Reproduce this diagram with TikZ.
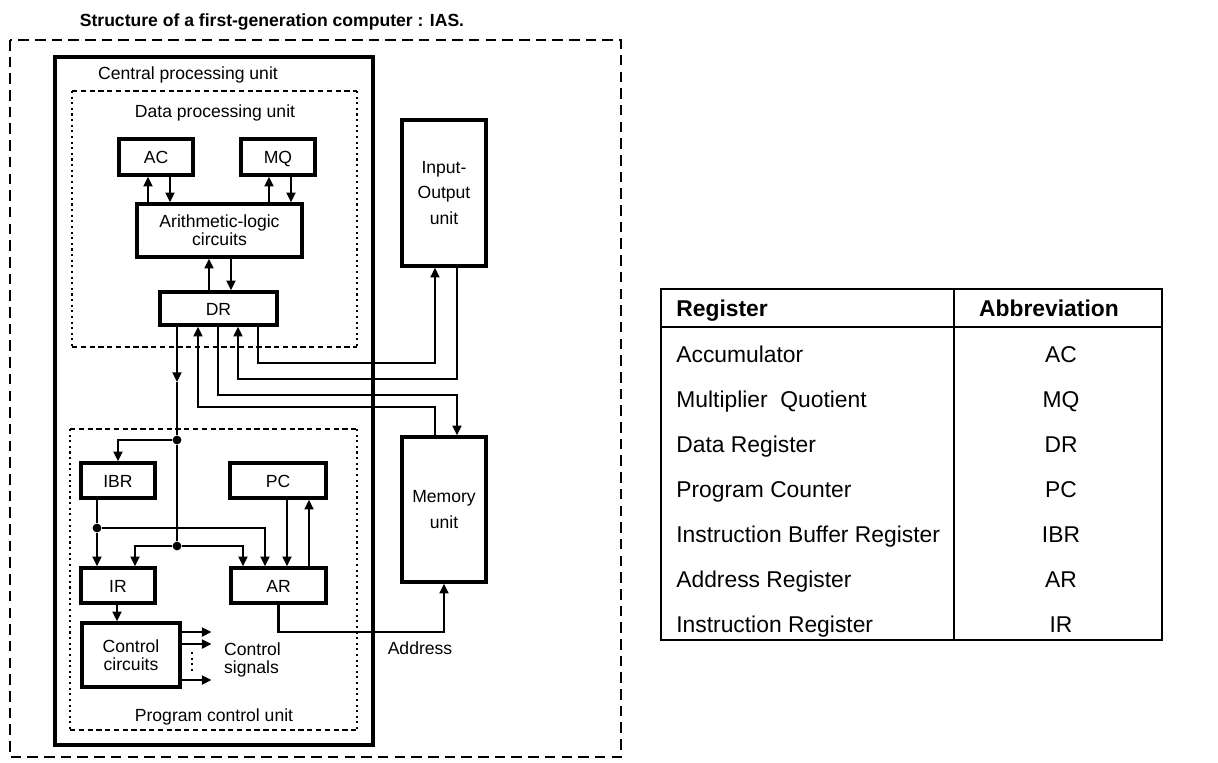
\documentclass[tikz,border=0pt]{standalone}
\usepackage{fontspec}
\setmainfont{Liberation Sans}
\usetikzlibrary{arrows.meta}
\begin{document}
\begin{tikzpicture}[x=0.02cm, y=-0.02cm, font=\fontsize{10}{11}\selectfont,
  box/.style={draw, line width=1.9pt, inner sep=0pt, align=center},
  reg/.style={box, text height=1.6ex, text depth=0.1ex},
  wire/.style={line width=1.3pt},
  arr/.style={wire, -{Triangle[length=5.5pt,width=5pt]}},
  junc/.style={circle, fill, inner sep=0pt, minimum size=5pt},
  cell/.style={inner sep=0pt, font=\fontsize{13}{15}\selectfont}]
  \useasboundingbox (0,0) rectangle (1218,762);

  % title
  \node[font=\fontsize{10}{11}\selectfont\bfseries] (title) at (272,22)
    {Structure of a first-generation computer : IAS.};

  % frames: whole machine, CPU, data and program units
  \draw[line width=1.2pt, dash pattern=on 6pt off 3.5pt] (10,40) rectangle (621,757);
  \draw[line width=2.4pt] (55,57) rectangle (373,745);
  \draw[line width=1pt, dash pattern=on 3pt off 2pt] (72,91) -- (357,91) (72,347) -- (357,347);
  \draw[line width=1.2pt, dotted] (72,91) -- (72,347) (357,91) -- (357,347);
  \draw[line width=1pt, dash pattern=on 3pt off 2pt] (70,429) -- (357,429) (70,730) -- (357,730);
  \draw[line width=1.2pt, dotted] (70,429) -- (70,730) (357,429) -- (357,730);

  \node (cpulbl) at (188,75) {Central processing unit};
  \node (dpulbl) at (215,113) {Data processing unit};
  \node (pculbl) at (214,717) {Program control unit};

  % registers and units
  \node[reg, minimum width=1.48cm, minimum height=0.72cm] (AC) at (156,157) {AC};
  \node[reg, minimum width=1.48cm, minimum height=0.72cm] (MQ) at (278,157) {MQ};
  \node[box, minimum width=3.3cm, minimum height=1.06cm, font=\fontsize{10}{10.2}\selectfont]
    (ALC) at (219.5,230.5) {Arithmetic-logic\\circuits};
  \node[reg, minimum width=2.34cm, minimum height=0.66cm] (DR) at (218.5,308.5) {DR};
  \node[box, minimum width=1.68cm, minimum height=2.92cm, font=\fontsize{10}{14.7}\selectfont]
    (IO) at (444,193) {Input-\\Output\\unit};
  \node[box, minimum width=1.68cm, minimum height=2.9cm, font=\fontsize{10}{14.7}\selectfont]
    (Mem) at (444,509.5) {Memory\\unit};
  \node[reg, minimum width=1.48cm, minimum height=0.7cm] (IBR) at (118,480.5) {IBR};
  \node[reg, minimum width=1.92cm, minimum height=0.7cm] (PC) at (278,480.5) {PC};
  \node[reg, minimum width=1.48cm, minimum height=0.7cm] (IR) at (118,585.5) {IR};
  \node[reg, minimum width=1.9cm, minimum height=0.7cm] (AR) at (278.5,585.5) {AR};
  \node[box, minimum width=1.96cm, minimum height=1.28cm, font=\fontsize{10}{10.2}\selectfont]
    (CC) at (131,655) {Control\\circuits};

  % data unit links
  \draw[arr] (ALC.north -| 148,0) -- (AC.south -| 148,0);
  \draw[arr] (AC.south -| 170,0) -- (ALC.north -| 170,0);
  \draw[arr] (ALC.north -| 269,0) -- (MQ.south -| 269,0);
  \draw[arr] (MQ.south -| 291,0) -- (ALC.north -| 291,0);
  \draw[arr] (DR.north -| 209,0) -- (ALC.south -| 209,0);
  \draw[arr] (ALC.south -| 231,0) -- (DR.north -| 231,0);

  % DR to I/O and memory
  \draw[arr] (DR.south -| 258,0) -- ++(0,36) -| (IO.south -| 435,0);
  \draw[arr] (IO.south -| 457,0) -- ++(0,111) -| (DR.south -| 238,0);
  \draw[arr] (DR.south -| 218,0) -- ++(0,68) -| (Mem.north -| 457,0);
  \draw[arr] (Mem.north -| 435,0) -- ++(0,-28) -| (DR.south -| 198,0);

  % bus down into the program control unit
  \node[junc] (J1) at (177,440) {};
  \node[junc] (J2) at (177,546) {};
  \node[junc] (J3) at (97,528) {};
  \coordinate (busarr) at (177,382);
  \draw[arr] (DR.south -| J1) -- (busarr);
  \draw[wire] (busarr) -- (J1) -- (J2);
  \draw[arr] (J1) -| (IBR.north);
  \draw[wire] (IBR.south -| J3) -- (J3);
  \draw[arr] (J3) -- (IR.north -| J3);
  \draw[arr] (J3) -| (AR.north -| 265,0);
  \draw[arr] (J2) -| (IR.north -| 135,0);
  \draw[arr] (J2) -| (AR.north -| 243,0);
  \draw[arr] (PC.south -| 287,0) -- (AR.north -| 287,0);
  \draw[arr] (AR.north -| 309,0) -- (PC.south -| 309,0);
  \draw[arr] (IR.south -| 117,0) -- (CC.north -| 117,0);
  \draw[arr] (AR.south) -- ++(0,27) -| (Mem.south);

  % control signals
  \draw[arr] (CC.east |- 0,632) -- ++(30,0);
  \draw[arr] (CC.east |- 0,644) -- ++(30,0);
  \draw[arr] (CC.east |- 0,680) -- ++(30,0);
  \draw[line width=1.2pt, dotted] (192,652) -- (192,672);
  \node[anchor=west, align=left, font=\fontsize{10}{9.8}\selectfont] (sig) at (218,660) {Control\\signals};
  \node (addr) at (420,648) {Address};

  % register table
  \draw[line width=1.3pt] (661,289) rectangle (1162,640);
  \draw[line width=1.3pt] (954,289) -- (954,640) (661,327) -- (1162,327);
  \node[cell, anchor=base west, font=\fontsize{13}{15}\selectfont\bfseries] (hreg) at (676,316) {Register};
  \node[cell, anchor=base, font=\fontsize{13}{15}\selectfont\bfseries] (habbr) at (1049,316) {Abbreviation};
  \foreach \reg/\abbr [count=\i] in {Accumulator/AC, Multiplier~~Quotient/MQ,
      Data Register/DR, Program Counter/PC, Instruction Buffer Register/IBR,
      Address Register/AR, Instruction Register/IR}
  {
    \node[cell, anchor=base west] at (676,317+45*\i) {\reg};
    \node[cell, anchor=base] at (1061,317+45*\i) {\abbr};
  }
\end{tikzpicture}
\end{document}
